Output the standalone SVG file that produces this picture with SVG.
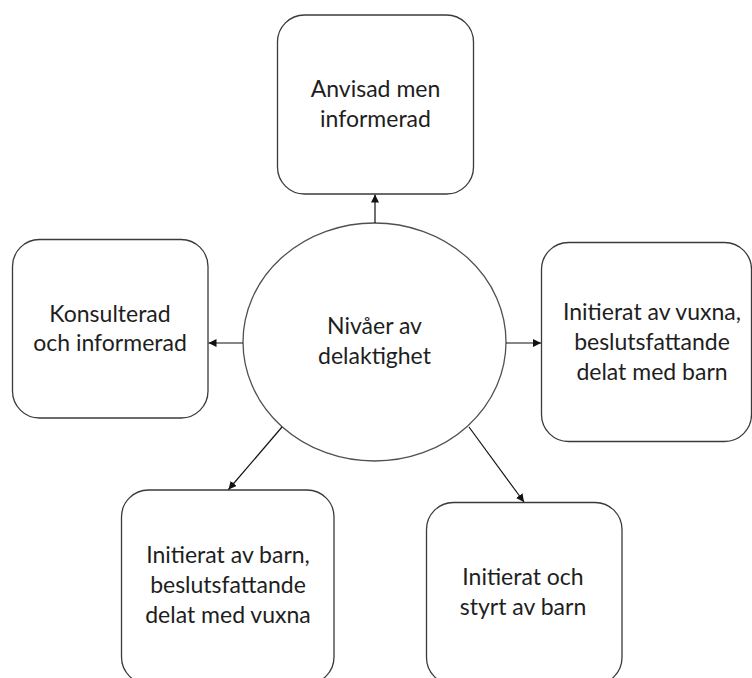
<svg xmlns="http://www.w3.org/2000/svg" width="752" height="678" viewBox="0 0 752 678">
<style>
.box{fill:#fff;stroke:#3a3a3a;stroke-width:1.3}
.ell{fill:#fff;stroke:#505050;stroke-width:1.3}
.t{font-family:Lato,"Open Sans",sans-serif;font-size:23px;fill:#1e1e1e;text-anchor:middle}
.c{stroke:#111;stroke-width:1.2;fill:none;marker-end:url(#ah)}
</style>
<defs>
<marker id="ah" viewBox="0 0 10 10" refX="10" refY="5" markerWidth="8" markerHeight="8" markerUnits="userSpaceOnUse" orient="auto">
<path d="M0,0 L10,5 L0,10 z" fill="#111"/>
</marker>
</defs>
<rect width="752" height="678" fill="#fff"/>
<g id="n-top"><rect class="box" x="277.5" y="15" width="196" height="179" rx="27"/>
<text class="t" x="375.5" y="97">Anvisad men</text><text class="t" x="375.5" y="127">informerad</text></g>
<g id="n-left"><rect class="box" x="12.5" y="239.5" width="195.5" height="178.5" rx="27"/>
<text class="t" x="110" y="322">Konsulterad</text><text class="t" x="110" y="351">och informerad</text></g>
<g id="n-right"><rect class="box" x="541.5" y="242.5" width="210" height="199" rx="27"/>
<text class="t" x="652" y="320">Initierat av vuxna,</text><text class="t" x="652" y="350">beslutsfattande</text><text class="t" x="652" y="380">delat med barn</text></g>
<g id="n-bl"><rect class="box" x="121.5" y="490" width="212.5" height="194" rx="27"/>
<text class="t" x="228" y="563">Initierat av barn,</text><text class="t" x="228" y="593">beslutsfattande</text><text class="t" x="228" y="623">delat med vuxna</text></g>
<g id="n-br"><rect class="box" x="426.5" y="502.5" width="195.5" height="182" rx="27"/>
<text class="t" x="523" y="585">Initierat och</text><text class="t" x="523" y="615">styrt av barn</text></g>
<g id="n-center"><ellipse class="ell" cx="374.5" cy="342" rx="131.5" ry="119"/>
<text class="t" x="374.5" y="334">Nivåer av</text><text class="t" x="374.5" y="364">delaktighet</text></g>
<g id="connectors">
<line class="c" x1="375" y1="223" x2="375" y2="194.5"/>
<line class="c" x1="243" y1="343" x2="208.5" y2="343"/>
<line class="c" x1="506" y1="343" x2="541" y2="343"/>
<line class="c" x1="282" y1="427" x2="228.5" y2="489.5"/>
<line class="c" x1="469" y1="427" x2="524" y2="502"/>
</g>
</svg>
